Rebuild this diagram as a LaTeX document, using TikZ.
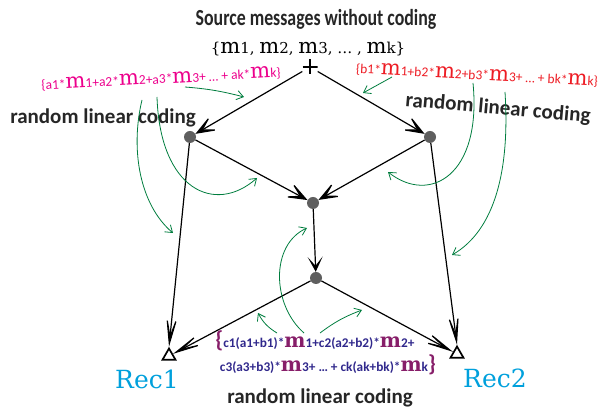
\documentclass[tikz,border=0pt]{standalone}
\usepackage{fontspec}
\setmainfont{Carlito}
\newfontfamily\serifm{DejaVu Serif}
\usetikzlibrary{arrows.meta,shapes.geometric}

\definecolor{notegreen}{RGB}{0,125,62}
\definecolor{apink}{RGB}{236,0,140}
\definecolor{bred}{RGB}{237,28,36}
\definecolor{cblue}{RGB}{48,40,140}
\definecolor{cmred}{RGB}{135,30,105}
\definecolor{reccyan}{RGB}{0,160,220}
\definecolor{relaygray}{RGB}{95,95,95}

% big serif message symbol
\newcommand\mm{{\serifm\fontsize{21}{21}\selectfont m}}
\newcommand\cm{{\color{cmred}\serifm\fontsize{20}{20}\selectfont m}}

\begin{document}
\begin{tikzpicture}[x=1pt,y=-1pt]
\tikzstyle{relay}=[circle,fill=relaygray,inner sep=0pt,minimum size=12pt]
\tikzstyle{sink}=[regular polygon,regular polygon sides=3,draw,line width=1.7pt,inner sep=0pt,minimum size=15pt]
\tikzstyle{source}=[inner sep=0pt,minimum size=15pt,path picture={
  \draw[line width=2.4pt] (path picture bounding box.north) -- (path picture bounding box.south)
    (path picture bounding box.west) -- (path picture bounding box.east);}]
\tikzstyle{flow}=[draw,line width=1.2pt,-{Stealth[length=25pt,width=19pt,inset=16pt]}]
\tikzstyle{shortflow}=[draw,line width=1.2pt,-{Stealth[length=15pt,width=15pt,inset=9pt]}]
\tikzstyle{longflow}=[draw,line width=1.2pt,-{Stealth[length=42pt,width=16pt,inset=30pt]}]
\tikzstyle{note}=[draw=notegreen,line width=0.8pt,-{Straight Barb[angle=70:8pt]}]
\tikzstyle{rlc}=[inner sep=0pt,text=black!85,font=\fontsize{21}{21}\selectfont\bfseries]
\tikzstyle{coef}=[inner sep=0pt,font=\fontsize{13.5}{13.5}\selectfont]
\tikzstyle{ccoef}=[inner sep=0pt,text=cblue,font=\fontsize{13.3}{13.3}\selectfont\bfseries]
\tikzstyle{reclabel}=[inner sep=0pt,text=reccyan,font=\serifm\fontsize{25}{25}\selectfont]

\useasboundingbox (0,0) rectangle (603,411);

% network
\node[source] (src) at (310,67) {};
\node[relay] (A) at (190,137) {};
\node[relay] (B) at (430,137) {};
\node[relay] (C) at (313,203) {};
\node[relay] (D) at (316,278) {};
\node[sink] (R1) at (169,356) {};
\node[sink] (R2) at (457,354) {};

\draw[flow] (src) -- (A);
\draw[flow] (src) -- (B);
\draw[flow] (A) -- (C);
\draw[flow] (B) -- (C);
\draw[shortflow] (C) -- (D);
\draw[longflow] (A) -- (R1.corner 1);
\draw[longflow] (B) -- (R2.corner 1);
\draw[longflow] (D) -- (R1);
\draw[longflow] (D) -- (R2);

% labels
\node[rlc,font=\fontsize{23}{23}\selectfont\bfseries] (head) at (316,19)
  {\scalebox{0.775}[1]{Source messages without coding}};
\node[inner sep=0pt,font=\serifm\fontsize{15}{15}\selectfont] (msgs) at (308,49)
  {\{\mm1,\ \mm2,\ \mm3,\ \dots{}\ ,\ \mm k\}};
\node[coef,text=apink,rotate=3] (acode) at (161,79)
  {\{a1*\mm1+a2*\mm2+a3*\mm3+ \dots{} + ak*\mm k\}};
\node[coef,text=bred,rotate=-3] (bcode) at (477,75)
  {\{b1*\mm1+b2*\mm2+b3*\mm3+ \dots{} + bk*\mm k\}};
\node[rlc] (rlcA) at (103,118) {random linear coding};
\node[rlc,rotate=-5] (rlcB) at (498,109) {random linear coding};
\node[ccoef] (cline1) at (315,341)
  {{\color{cmred}\fontsize{23}{23}\selectfont\{}c1(a1+b1)*\cm1+c2(a2+b2)*\cm2+};
\node[ccoef] (cline2) at (328,365)
  {c3(a3+b3)*\cm3+ \dots{} + ck(ak+bk)*\cm k{\color{cmred}\fontsize{23}{23}\selectfont\}}};
\node[rlc] (rlcC) at (320,398) {random linear coding};
\node[reclabel] (rec1) at (147,379) {Rec1};
\node[reclabel] (rec2) at (495,378) {Rec2};

% annotation arrows
\coordinate (a1) at (185,87);  \coordinate (a2) at (244,97);
\coordinate (b1) at (392,77);  \coordinate (b2) at (363,93);
\coordinate (l1) at (142,100); \coordinate (l2) at (173,233);
\coordinate (l3) at (157,97);  \coordinate (l4) at (257,178);
\coordinate (r1) at (473,83);  \coordinate (r2) at (388,172);
\coordinate (r3) at (505,92);  \coordinate (r4) at (452,255);
\coordinate (m1) at (304,333); \coordinate (m2) at (307,228);
\coordinate (m3) at (277,333); \coordinate (m4) at (258,313);
\coordinate (m5) at (320,333); \coordinate (m6) at (362,310);

\draw[note] (a1) to[bend left=5] (a2);
\draw[note] (b1) -- (b2);
\draw[note] (l1) .. controls (130,150) and (140,205) .. (l2);
\draw[note] (l3) .. controls (160,190) and (215,215) .. (l4);
\draw[note] (r1) .. controls (482,175) and (430,205) .. (r2);
\draw[note] (r3) .. controls (510,170) and (495,230) .. (r4);
\draw[note] (m1) .. controls (272,305) and (270,245) .. (m2);
\draw[note] (m3) to[bend left=15] (m4);
\draw[note] (m5) to[bend left=8] (m6);
\end{tikzpicture}
\end{document}
